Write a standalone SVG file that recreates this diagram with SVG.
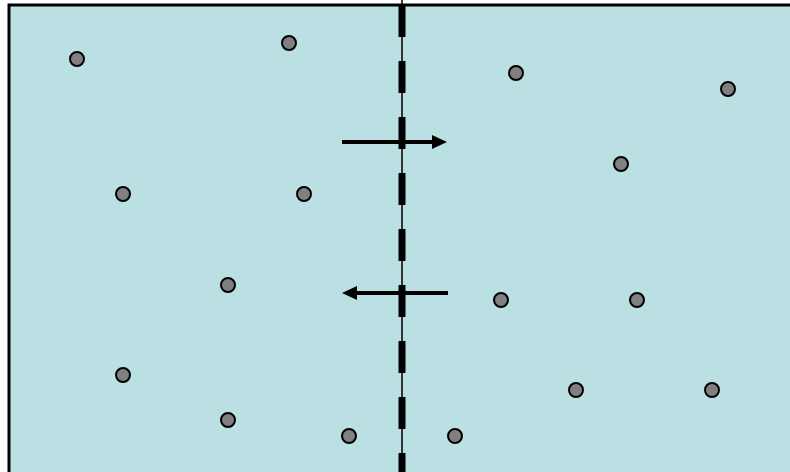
<svg xmlns="http://www.w3.org/2000/svg" width="790" height="472" viewBox="0 0 790 472">
<style>
.dot{fill:#808080;stroke:#000;stroke-width:2}
.arr{stroke:#000;stroke-width:4;fill:none}
</style>
<defs>
<marker id="ah" markerWidth="16" markerHeight="16" refX="0" refY="7" orient="auto" markerUnits="userSpaceOnUse">
<path d="M0,0 L15,7 L0,14 Z" fill="#000"/>
</marker>
</defs>
<rect x="9" y="5" width="800" height="480" fill="#BBE0E3" stroke="#000" stroke-width="3"/>
<g id="boundary">
<line x1="402" y1="0" x2="402" y2="472" stroke="#000" stroke-width="1.5"/>
<line x1="402" y1="5" x2="402" y2="472" stroke="#000" stroke-width="7" stroke-dasharray="32 24"/>
</g>
<g id="connectors">
<line class="arr" x1="342" y1="142" x2="432" y2="142" marker-end="url(#ah)"/>
<line class="arr" x1="448" y1="293" x2="357" y2="293" marker-end="url(#ah)"/>
</g>
<g id="p1"><circle class="dot" cx="77" cy="59" r="7"/></g>
<g id="p2"><circle class="dot" cx="289" cy="43" r="7"/></g>
<g id="p3"><circle class="dot" cx="516" cy="73" r="7"/></g>
<g id="p4"><circle class="dot" cx="728" cy="89" r="7"/></g>
<g id="p5"><circle class="dot" cx="621" cy="164" r="7"/></g>
<g id="p6"><circle class="dot" cx="123" cy="194" r="7"/></g>
<g id="p7"><circle class="dot" cx="304" cy="194" r="7"/></g>
<g id="p8"><circle class="dot" cx="228" cy="285" r="7"/></g>
<g id="p9"><circle class="dot" cx="501" cy="300" r="7"/></g>
<g id="p10"><circle class="dot" cx="637" cy="300" r="7"/></g>
<g id="p11"><circle class="dot" cx="123" cy="375" r="7"/></g>
<g id="p12"><circle class="dot" cx="576" cy="390" r="7"/></g>
<g id="p13"><circle class="dot" cx="712" cy="390" r="7"/></g>
<g id="p14"><circle class="dot" cx="228" cy="420" r="7"/></g>
<g id="p15"><circle class="dot" cx="349" cy="436" r="7"/></g>
<g id="p16"><circle class="dot" cx="455" cy="436" r="7"/></g>
</svg>
